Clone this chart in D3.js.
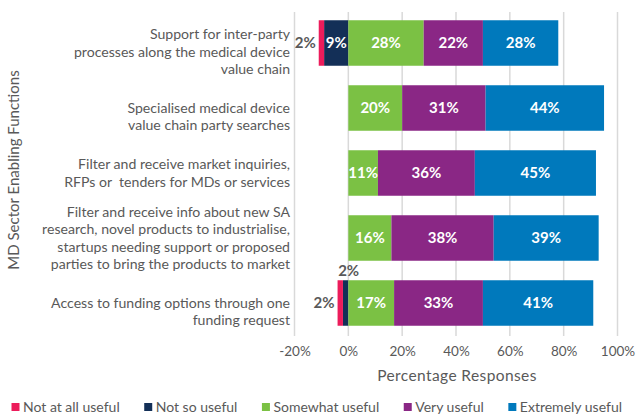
<!DOCTYPE html>
<html>
<head>
<meta charset="utf-8">
<script src="https://cdn.jsdelivr.net/npm/d3@7"></script>
<style>
  html, body { margin: 0; padding: 0; background: #fff; }
  svg { display: block; }
  text { font-family: Lato, "Open Sans", sans-serif; fill: #595959; }
</style>
</head>
<body>
<svg id="chart" width="638" height="414"></svg>
<script>
// Category labels, one entry per line (a leading "" keeps Excel's blank first line)
const categories = [
  ["", "Support for inter-party", "processes along the medical device", "value chain"],
  ["", "Specialised medical device", "value chain party searches"],
  ["Filter and receive market inquiries,", "RFPs or  tenders for MDs or services"],
  ["Filter and receive info about new SA", "research, novel products to industrialise,", "startups needing support or proposed", "parties to bring the products to market"],
  ["", "Access to funding options through one", "funding request"]
];

const seriesNames = ["Not at all useful", "Not so useful", "Somewhat useful", "Very useful", "Extremely useful"];
const seriesColors = ["#EC1C5B", "#132F57", "#7BC144", "#8A2785", "#0079BC"];

// Percent of responses per category, in series order
const notAtAllUseful  = [2, 0, 0, 0, 2];
const notSoUseful     = [9, 0, 0, 0, 2];
const somewhatUseful  = [28, 20, 11, 16, 17];
const veryUseful      = [22, 31, 36, 38, 33];
const extremelyUseful = [28, 44, 45, 39, 41];

const xTicks = [-20, 0, 20, 40, 60, 80, 100];

const svg = d3.select("#chart");

const x = d3.scaleLinear().domain([-20, 100]).range([294.5, 617.5]);
const y = d3.scaleBand().domain(d3.range(categories.length)).range([10.5, 335.5])
  .paddingInner(0.3).paddingOuter(0.15);

// vertical gridlines
svg.append("g").selectAll("line").data(xTicks).join("line")
  .attr("x1", d => x(d)).attr("x2", d => x(d))
  .attr("y1", 12).attr("y2", 336)
  .attr("stroke", "#D9D9D9").attr("stroke-width", 1.5);

// x axis tick labels
const xAxis = d3.axisBottom(x).tickValues(xTicks).tickFormat(d => d + "%").tickSize(0).tickPadding(0);
const gx = svg.append("g").attr("transform", "translate(0,346)").call(xAxis);
gx.select(".domain").remove();
gx.selectAll("text").attr("font-size", 13.5).attr("fill", "#595959")
  .attr("font-family", "Lato, sans-serif").attr("dy", "0.71em");

svg.append("text").attr("x", 457).attr("y", 381).attr("text-anchor", "middle")
  .attr("font-size", 15.5).attr("letter-spacing", 0.4).text("Percentage Responses");

svg.append("text").attr("transform", "translate(19,170) rotate(-90)")
  .attr("text-anchor", "middle").attr("font-size", 15)
  .text("MD Sector Enabling Functions");

// category labels
const lineH = 17.3;
const catG = svg.append("g");
categories.forEach((lines, i) => {
  const cy = y(i) + y.bandwidth() / 2;
  const t = catG.append("text").attr("text-anchor", "end").attr("font-size", 14.1)
    .style("white-space", "pre");
  lines.forEach((ln, k) => {
    t.append("tspan").attr("x", 290)
      .attr("y", cy + (k - (lines.length - 1) / 2) * lineH)
      .attr("dy", "0.35em").text(ln);
  });
});

// build stacked segments
const values = [notAtAllUseful, notSoUseful, somewhatUseful, veryUseful, extremelyUseful];
const segments = [];
categories.forEach((_, i) => {
  let neg = 0, pos = 0;
  // negative side: "Not so useful" sits next to zero, "Not at all useful" beyond it
  [1, 0].forEach(s => {
    const v = values[s][i];
    segments.push({ row: i, s, v, x0: neg - v, x1: neg });
    neg -= v;
  });
  [2, 3, 4].forEach(s => {
    const v = values[s][i];
    segments.push({ row: i, s, v, x0: pos, x1: pos + v });
    pos += v;
  });
});

svg.append("g").selectAll("rect").data(segments.filter(d => d.v > 0)).join("rect")
  .attr("x", d => x(d.x0)).attr("width", d => x(d.x1) - x(d.x0))
  .attr("y", d => y(d.row)).attr("height", y.bandwidth())
  .attr("fill", d => seriesColors[d.s]);

// value labels
const lab = svg.append("g").attr("font-weight", 700).attr("font-size", 15);
segments.filter(d => d.v > 0).forEach(d => {
  const cy = y(d.row) + y.bandwidth() / 2;
  const cx = (x(d.x0) + x(d.x1)) / 2;
  const t = lab.append("text").text(d.v + "%").attr("dy", "0.36em");
  if (d.s === 0) {
    t.attr("x", x(d.x0) - 3).attr("y", cy).attr("text-anchor", "end").style("fill", "#595959");
  } else if (d.v < 5) {
    t.attr("x", cx + 3).attr("y", y(d.row) - 10).attr("text-anchor", "middle").style("fill", "#595959");
  } else {
    t.attr("x", cx).attr("y", cy).attr("text-anchor", "middle").style("fill", "#fff");
  }
});

// legend laid out across the bottom
const leg = svg.append("g");
const items = seriesNames.map((n, i) => {
  const g = leg.append("g");
  g.append("rect").attr("width", 8).attr("height", 8).attr("y", 403).attr("fill", seriesColors[i]);
  const t = g.append("text").attr("x", 11.5).attr("y", 407).attr("dy", "0.35em")
    .attr("font-size", 14).text(n);
  return { g, w: 11.5 + t.node().getComputedTextLength() };
});
const start = 11.5, end = 622;
const gap = (end - start - d3.sum(items, d => d.w)) / (items.length - 1);
let lx = start;
items.forEach(it => { it.g.attr("transform", `translate(${lx},0)`); lx += it.w + gap; });
</script>
</body>
</html>
